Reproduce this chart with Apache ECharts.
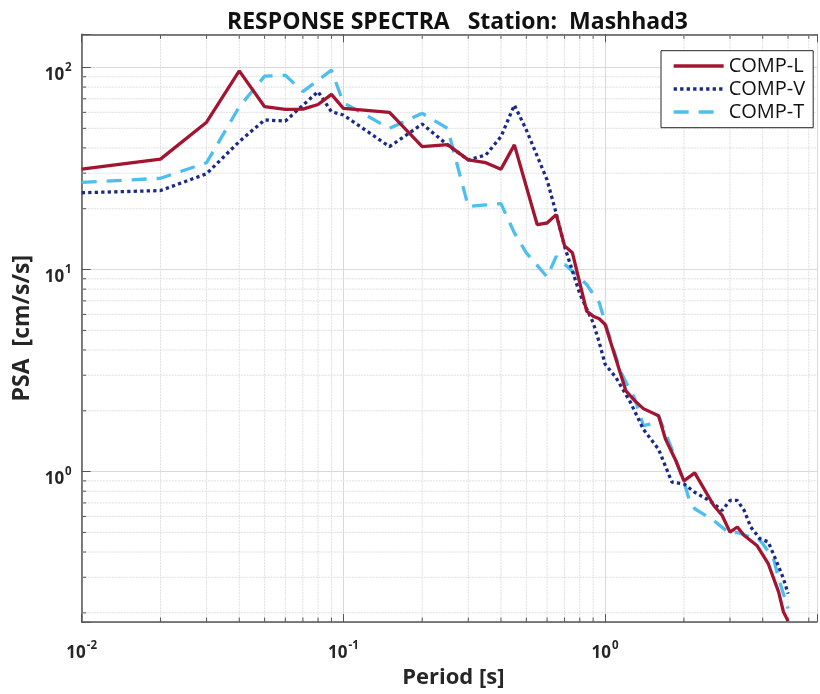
<!DOCTYPE html>
<html>
<head>
<meta charset="utf-8">
<script src="https://cdn.jsdelivr.net/npm/echarts@6/dist/echarts.min.js"></script>
<style>html,body{margin:0;padding:0;background:#fff}#c{width:820px;height:694px}</style>
</head>
<body>
<div id="c"></div>
<script>
// ---- data ----
const periodsL = [0.01,0.02,0.03,0.04,0.05,0.06,0.07,0.08,0.09,0.1,0.15,0.2,0.25,0.3,0.35,0.4,0.45,0.55,0.6,0.65,0.7,0.75,0.85,0.9,0.95,1.0,1.2,1.3,1.4,1.6,1.7,1.85,2.0,2.2,2.6,2.8,3.0,3.2,3.4,3.8,4.2,4.6,4.8,5.0];
const psaL     = [31.4,35.2,53.6,96.2,64,62.1,62.2,65.6,73.6,62.8,60,40.6,41.5,34.9,33.8,31.4,41.4,16.7,17,18.7,13.1,12.1,6.23,5.88,5.71,5.35,2.51,2.24,2.05,1.89,1.45,1.155,0.9,0.985,0.68,0.607,0.502,0.532,0.483,0.431,0.35,0.254,0.2025,0.182];

const periodsV = [0.01,0.02,0.03,0.04,0.05,0.06,0.08,0.09,0.1,0.15,0.2,0.25,0.3,0.35,0.4,0.45,0.5,0.6,0.65,0.7,0.8,0.9,0.95,1.0,1.1,1.25,1.4,1.6,1.8,2.0,2.2,2.5,2.8,3.0,3.2,3.4,3.6,3.9,4.2,4.5,4.8,5.0];
const psaV     = [24.0,24.6,29.8,43,55,54.3,76,60.4,58.2,40.6,52.5,41.4,34.9,36.9,45.5,65.2,49.1,27.8,19.0,13.0,7.6,5.46,4.35,3.40,2.92,2.2,1.62,1.29,0.887,0.87,0.79,0.72,0.642,0.72,0.72,0.642,0.532,0.466,0.449,0.364,0.296,0.249];

const periodsT = [0.01,0.02,0.03,0.04,0.05,0.06,0.07,0.09,0.1,0.15,0.2,0.25,0.3,0.35,0.4,0.45,0.5,0.6,0.65,0.75,0.85,0.95,1.0,1.15,1.3,1.4,1.5,1.6,1.8,2.0,2.1,2.2,2.6,3.0,3.2,3.5,3.8,4.0,4.4,4.6,5.0];
const psaT     = [27.0,28.3,33.8,63.9,90.6,91.5,76,97,67,50,59.3,50,20.5,20.9,21.2,15.2,12.1,9.2,11.6,9.8,8.43,6.85,5.46,3.09,2.28,1.69,1.72,1.89,1.29,0.89,0.72,0.655,0.573,0.493,0.50,0.48,0.474,0.44,0.371,0.296,0.21];

const seriesNames = ['COMP-L','COMP-V','COMP-T'];
const xMinorTicks = [0.02,0.03,0.04,0.05,0.06,0.07,0.08,0.09,0.2,0.3,0.4,0.5,0.6,0.7,0.8,0.9,2,3,4,5,6];
const yMinorTicks = [0.2,0.3,0.4,0.5,0.6,0.7,0.8,0.9,2,3,4,5,6,7,8,9,20,30,40,50,60,70,80,90];
const titleText = 'RESPONSE SPECTRA   Station:  Mashhad3';
const xName = 'Period [s]';
const yName = 'PSA  [cm/s/s]';

// ---- chart ----
const FONT = 'Open Sans';
const X_MIN = 0.01, X_MAX = 6.45, Y_MIN = 0.18, Y_MAX = 146;
const zip = (xs, ys) => xs.map((x, i) => [x, ys[i]]);

function powLabel(v) {
  const e = Math.log10(v), r = Math.round(e);
  if (Math.abs(e - r) > 1e-6) return '';
  return '{b|10}{s|' + r + '}';
}
const richLbl = {
  b: {fontFamily: FONT, fontWeight: 'bold', fontSize: 17, lineHeight: 17, color: '#262626', padding: [16, 0, 0, 0]},
  s: {fontFamily: FONT, fontWeight: 'bold', fontSize: 11.5, lineHeight: 11, color: '#262626', padding: [0, 0, 0, 1]}
};
const AXC = '#555555';
const LW = 3.3;

const chart = echarts.init(document.getElementById('c'), null, {renderer: 'canvas'});
chart.setOption({
  animation: false,
  backgroundColor: '#ffffff',
  title: {
    text: titleText, left: 222, top: 6,
    textStyle: {fontFamily: FONT, fontWeight: 'bold', fontSize: 23, color: '#111'}
  },
  grid: {left: 81.7, top: 34.3, right: 0, bottom: 70.3, containLabel: false},
  legend: {
    orient: 'vertical', left: 661, top: 50.7,
    data: seriesNames,
    backgroundColor: '#fff', borderColor: '#262626', borderWidth: 1,
    padding: [5.3, 8, 5.7, 11], itemGap: 3, itemWidth: 50, itemHeight: 14,
    itemStyle: {opacity: 0},
    lineStyle: {width: LW},
    textStyle: {fontFamily: FONT, fontSize: 20, lineHeight: 20, color: '#111'}
  },
  xAxis: [{
    type: 'log', min: X_MIN, max: X_MAX, logBase: 10,
    name: xName, nameLocation: 'middle', nameGap: 43,
    nameTextStyle: {fontFamily: FONT, fontWeight: 'bold', fontSize: 22, color: '#262626', padding: [0, 0, 0, 8]},
    axisLine: {show: true, lineStyle: {color: AXC, width: 1.5}},
    axisTick: {show: true, inside: true, length: 8, lineStyle: {color: AXC}},
    axisLabel: {formatter: powLabel, rich: richLbl, margin: 15, showMinLabel: true, showMaxLabel: true},
    splitLine: {show: true, lineStyle: {color: '#d9d9d9', width: 1}}
  }, {
    type: 'log', min: X_MIN, max: X_MAX, logBase: 10, position: 'top',
    axisLine: {show: true, lineStyle: {color: AXC, width: 1.5}},
    axisTick: {show: true, inside: true, length: 8, lineStyle: {color: AXC}},
    axisLabel: {show: false}, splitLine: {show: false}
  }],
  yAxis: [{
    type: 'log', min: Y_MIN, max: Y_MAX, logBase: 10,
    name: yName, nameLocation: 'middle', nameGap: 41.5, nameRotate: 90,
    nameTextStyle: {fontFamily: FONT, fontWeight: 'bold', fontSize: 23, color: '#262626'},
    axisLine: {show: true, lineStyle: {color: AXC, width: 1.5}},
    axisTick: {show: true, inside: true, length: 9, lineStyle: {color: AXC}},
    axisLabel: {formatter: powLabel, rich: richLbl, margin: 10},
    splitLine: {show: true, lineStyle: {color: '#d9d9d9', width: 1}}
  }],
  series: [
    {
      name: 'minorX', type: 'custom', z: 1, silent: true, xAxisIndex: 0,
      data: xMinorTicks.map(v => [v, Y_MIN]),
      renderItem: function (params, api) {
        const cs = params.coordSys;
        const x = api.coord([api.value(0), Y_MIN])[0];
        const b = cs.y + cs.height;
        return {type: 'group', children: [
          {type: 'line', shape: {x1: x, y1: cs.y, x2: x, y2: b}, style: {stroke: '#dedede', lineWidth: 1, lineDash: [2, 1]}},
          {type: 'line', shape: {x1: x, y1: b, x2: x, y2: b - 4.5}, style: {stroke: AXC, lineWidth: 1}},
          {type: 'line', shape: {x1: x, y1: cs.y, x2: x, y2: cs.y + 4.5}, style: {stroke: AXC, lineWidth: 1}}
        ]};
      }
    },
    {
      name: 'minorY', type: 'custom', z: 1, silent: true, xAxisIndex: 0,
      data: yMinorTicks.map(v => [X_MIN, v]),
      renderItem: function (params, api) {
        const cs = params.coordSys;
        const y = api.coord([X_MIN, api.value(1)])[1];
        return {type: 'group', children: [
          {type: 'line', shape: {x1: cs.x, y1: y, x2: cs.x + cs.width, y2: y}, style: {stroke: '#dedede', lineWidth: 1, lineDash: [2, 1]}},
          {type: 'line', shape: {x1: cs.x, y1: y, x2: cs.x + 4.5, y2: y}, style: {stroke: AXC, lineWidth: 1}}
        ]};
      }
    },
    {
      name: 'COMP-L', type: 'line', data: zip(periodsL, psaL), symbol: 'none', z: 5,
      lineStyle: {color: '#A2142F', width: LW, type: 'solid'}, itemStyle: {color: '#A2142F'}
    },
    {
      name: 'COMP-V', type: 'line', data: zip(periodsV, psaV), symbol: 'none', z: 4,
      lineStyle: {color: '#1B2A88', width: LW, type: [3.3, 3.2], cap: 'butt'}, itemStyle: {color: '#1B2A88'}
    },
    {
      name: 'COMP-T', type: 'line', data: zip(periodsT, psaT), symbol: 'none', z: 3,
      lineStyle: {color: '#4DBEEE', width: LW, type: [15, 10]}, itemStyle: {color: '#4DBEEE'}
    }
  ]
});
</script>
</body>
</html>
